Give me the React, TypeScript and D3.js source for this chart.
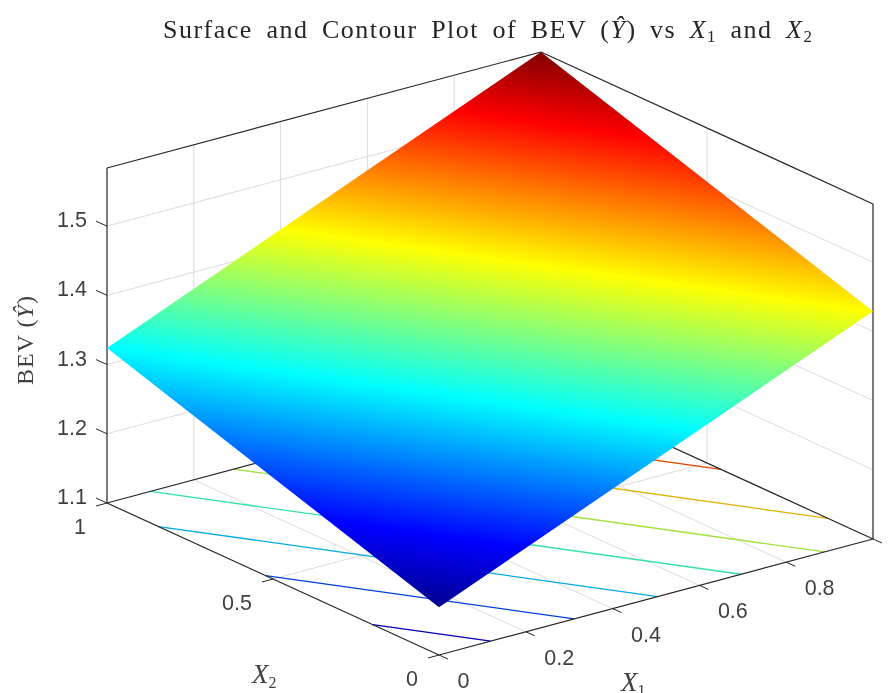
import React from 'react';
import * as d3 from 'd3';

const width = 893;
const height = 693;

// axis ticks
const x1Ticks = [0, 0.2, 0.4, 0.6, 0.8, 1];
const x2Ticks = [0, 0.5, 1];
const zTicks = [1.1, 1.2, 1.3, 1.4, 1.5];
const zLimits = [1.1, 1.584];

// surface values at the four corners
const surfaceX1 = [0, 1];
const surfaceX2 = [0, 1];
const surfaceZ = [
  [1.169, 1.324], // x1 = 0
  [1.429, 1.584], // x1 = 1
];

const contourLevels = [1.2, 1.25, 1.3, 1.35, 1.4, 1.45, 1.5, 1.55];

// jet colormap
const jetStops = [0, 0.125, 0.375, 0.625, 0.875, 1];
const jetColors = ['#00008f', '#0000ff', '#00ffff', '#ffff00', '#ff0000', '#800000'];

const axisColor = '#262626';
const gridColor = '#dcdcdc';
const textColor = '#404040';
const sansFont = '"Liberation Sans", Arial, sans-serif';
const serifFont = '"Liberation Serif", serif';

// projection of the 3D box, each data axis has its own scale per screen direction
const originX = 439;
const originY = 655;
const x1ToX = d3.scaleLinear().domain([0, 1]).range([0, 434]);
const x1ToY = d3.scaleLinear().domain([0, 1]).range([0, -116]);
const x2ToX = d3.scaleLinear().domain([0, 1]).range([0, -332]);
const x2ToY = d3.scaleLinear().domain([0, 1]).range([0, -152]);
const zToY = d3.scaleLinear().domain(zLimits).range([0, -335]);

type Pt = [number, number];
const project = (x1: number, x2: number, z: number): Pt => [
  originX + x1ToX(x1) + x2ToX(x2),
  originY + x1ToY(x1) + x2ToY(x2) + zToY(z),
];

const zMin = surfaceZ[0][0];
const zMax = surfaceZ[1][1];
const colorT = d3.scaleLinear().domain([zMin, zMax]).range([0, 1]);
const jet = d3.scaleLinear<string>().domain(jetStops).range(jetColors).interpolate(d3.interpolateRgb);

const line = d3.line<Pt>();
const zFloor = zLimits[0];
const zTop = zLimits[1];

// where a contour level crosses the border of the surface
function contourEnds(level: number): Pt[] {
  const [[a, b], [c, d]] = surfaceZ;
  const out: Pt[] = [];
  const add = (u: number, v: number, p: number, q: number, du: number, dv: number) => {
    if ((p - level) * (q - level) < 0) {
      const t = (level - p) / (q - p);
      out.push([u + du * t, v + dv * t]);
    }
  };
  add(0, 0, a, c, 1, 0);
  add(0, 1, b, d, 1, 0);
  add(0, 0, a, b, 0, 1);
  add(1, 0, c, d, 0, 1);
  return out;
}

// gradient vector on screen for the plane, from the three corners
function surfaceGradient() {
  const p0 = project(0, 0, surfaceZ[0][0]);
  const p1 = project(1, 0, surfaceZ[1][0]);
  const p2 = project(0, 1, surfaceZ[0][1]);
  const dz1 = surfaceZ[1][0] - surfaceZ[0][0];
  const dz2 = surfaceZ[0][1] - surfaceZ[0][0];
  const ax = p1[0] - p0[0];
  const ay = p1[1] - p0[1];
  const bx = p2[0] - p0[0];
  const by = p2[1] - p0[1];
  const det = ax * by - ay * bx;
  const gx = (dz1 * by - dz2 * ay) / det;
  const gy = (ax * dz2 - bx * dz1) / det;
  const g2 = gx * gx + gy * gy;
  const span = zMax - zMin;
  return { x1: p0[0], y1: p0[1], x2: p0[0] + (gx / g2) * span, y2: p0[1] + (gy / g2) * span };
}

const Seg = ({ a, b, color, w = 1 }: { a: Pt; b: Pt; color: string; w?: number }) => (
  <path d={line([a, b]) as string} stroke={color} strokeWidth={w} fill="none" />
);

export default function App() {
  const grad = surfaceGradient();
  const corners: Pt[] = [
    project(surfaceX1[0], surfaceX2[0], surfaceZ[0][0]),
    project(surfaceX1[1], surfaceX2[0], surfaceZ[1][0]),
    project(surfaceX1[1], surfaceX2[1], surfaceZ[1][1]),
    project(surfaceX1[0], surfaceX2[1], surfaceZ[0][1]),
  ];

  return (
    <svg
      width={width}
      height={height}
      style={{ position: 'absolute', left: 0, top: 0, background: '#fff', filter: 'blur(0.4px)' }}
    >
      <defs>
        <linearGradient
          id="jetSurface"
          gradientUnits="userSpaceOnUse"
          x1={grad.x1}
          y1={grad.y1}
          x2={grad.x2}
          y2={grad.y2}
        >
          {jetStops.map((s, i) => (
            <stop key={i} offset={s} stopColor={jetColors[i]} />
          ))}
        </linearGradient>
      </defs>

      {/* grid on floor and the two back walls */}
      <g>
        {x1Ticks.slice(1, -1).map((t) => (
          <g key={t}>
            <Seg a={project(t, 0, zFloor)} b={project(t, 1, zFloor)} color={gridColor} />
            <Seg a={project(t, 1, zFloor)} b={project(t, 1, zTop)} color={gridColor} />
          </g>
        ))}
        {x2Ticks.slice(1, -1).map((t) => (
          <g key={t}>
            <Seg a={project(0, t, zFloor)} b={project(1, t, zFloor)} color={gridColor} />
            <Seg a={project(1, t, zFloor)} b={project(1, t, zTop)} color={gridColor} />
          </g>
        ))}
        {zTicks.slice(1).map((t) => (
          <g key={t}>
            <Seg a={project(0, 1, t)} b={project(1, 1, t)} color={gridColor} />
            <Seg a={project(1, 0, t)} b={project(1, 1, t)} color={gridColor} />
          </g>
        ))}
      </g>

      {/* contours on the floor */}
      <g>
        {contourLevels.map((lv) => {
          const ends = contourEnds(lv).map(([u, v]) => project(u, v, zFloor));
          return (
            <path
              key={lv}
              d={line(ends) as string}
              stroke={d3.color(jet(colorT(lv)))!.darker(0.35).formatHex()}
              strokeWidth={1.3}
              fill="none"
            />
          );
        })}
      </g>

      {/* box edges */}
      <g>
        <Seg a={project(0, 0, zFloor)} b={project(1, 0, zFloor)} color={axisColor} w={1.2} />
        <Seg a={project(0, 0, zFloor)} b={project(0, 1, zFloor)} color={axisColor} w={1.2} />
        <Seg a={project(0, 1, zFloor)} b={project(1, 1, zFloor)} color={axisColor} w={1.2} />
        <Seg a={project(1, 0, zFloor)} b={project(1, 1, zFloor)} color={axisColor} w={1.2} />
        <Seg a={project(0, 1, zFloor)} b={project(0, 1, zTop)} color={axisColor} w={1.2} />
        <Seg a={project(1, 0, zFloor)} b={project(1, 0, zTop)} color={axisColor} w={1.2} />
        <Seg a={project(0, 1, zTop)} b={project(1, 1, zTop)} color={axisColor} w={1.2} />
        <Seg a={project(1, 1, zTop)} b={project(1, 0, zTop)} color={axisColor} w={1.2} />
      </g>

      {/* surface */}
      <path d={(line(corners) as string) + 'Z'} fill="url(#jetSurface)" />

      {/* ticks */}
      <g>
        {x1Ticks.map((t) => {
          const p = project(t, 0, zFloor);
          return <Seg key={t} a={p} b={[p[0] + 9, p[1] + 4]} color={axisColor} />;
        })}
        {x2Ticks.map((t) => {
          const p = project(0, t, zFloor);
          return <Seg key={t} a={p} b={[p[0] - 11, p[1] + 3]} color={axisColor} />;
        })}
        {zTicks.map((t) => {
          const p = project(0, 1, t);
          return <Seg key={t} a={p} b={[p[0] - 11, p[1] - 5]} color={axisColor} />;
        })}
      </g>

      {/* tick labels */}
      <g fontFamily={sansFont} fontSize={21.5} fill={textColor}>
        {zTicks.map((t) => {
          const p = project(0, 1, t);
          return (
            <text key={t} x={p[0] - 20} y={p[1] + 1} textAnchor="end">
              {t.toFixed(1)}
            </text>
          );
        })}
        {x2Ticks.map((t) => {
          const p = project(0, t, zFloor);
          return (
            <text key={t} x={p[0] - 21} y={p[1] + 31} textAnchor="end">
              {t}
            </text>
          );
        })}
        {x1Ticks.map((t) => {
          const p = project(t, 0, zFloor);
          return (
            <text key={t} x={p[0] + 18.5} y={p[1] + 33} textAnchor="start">
              {t}
            </text>
          );
        })}
      </g>

      {/* axis labels */}
      <g fontFamily={serifFont} fill={textColor}>
        <text x={252} y={683} fontSize={27} fontStyle="italic">
          X<tspan fontSize={16} dy={5} fontStyle="normal">2</tspan>
        </text>
        <text x={621} y={691} fontSize={27} fontStyle="italic">
          X<tspan fontSize={16} dy={5} fontStyle="normal">1</tspan>
        </text>
        <text transform="translate(33,340) rotate(-90)" textAnchor="middle" fontSize={24} letterSpacing={1}>
          BEV (<tspan fontStyle="italic">Ŷ</tspan>)
        </text>
      </g>

      {/* title */}
      <text
        x={163}
        y={38}
        fontFamily={serifFont}
        fontSize={26}
        fill="#262626"
        letterSpacing={1.5}
        wordSpacing={5.5}
      >
        Surface and Contour Plot of BEV (<tspan fontStyle="italic">Ŷ</tspan>) vs{' '}
        <tspan fontStyle="italic">X</tspan>
        <tspan fontSize={17} dy={4}>1</tspan>
        <tspan dy={-4}> and </tspan>
        <tspan fontStyle="italic">X</tspan>
        <tspan fontSize={17} dy={4}>2</tspan>
      </text>
    </svg>
  );
}
